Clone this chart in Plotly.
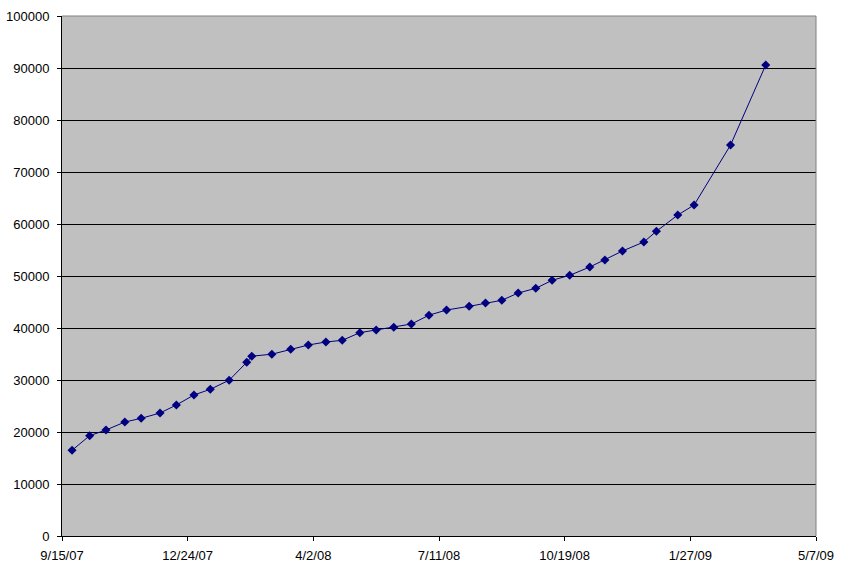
import plotly.graph_objects as go

dates = [
    "2007-09-23", "2007-10-07", "2007-10-20", "2007-11-04", "2007-11-17",
    "2007-12-02", "2007-12-15", "2007-12-29", "2008-01-11", "2008-01-26",
    "2008-02-09", "2008-02-13", "2008-02-29", "2008-03-15", "2008-03-29",
    "2008-04-12", "2008-04-25", "2008-05-09", "2008-05-22", "2008-06-05",
    "2008-06-19", "2008-07-03", "2008-07-17", "2008-08-04", "2008-08-17",
    "2008-08-30", "2008-09-12", "2008-09-26", "2008-10-09", "2008-10-23",
    "2008-11-08", "2008-11-20", "2008-12-04", "2008-12-21", "2008-12-31",
    "2009-01-17", "2009-01-30", "2009-02-28", "2009-03-28",
]
values = [
    16480, 19290, 20380, 21920, 22630,
    23650, 25190, 27120, 28210, 29960,
    33400, 34580, 34960, 35900, 36730,
    37310, 37630, 39100, 39620, 40130,
    40770, 42460, 43460, 44170, 44810,
    45330, 46730, 47630, 49170, 50130,
    51730, 53080, 54810, 56540, 58600,
    61730, 63650, 75190, 90580,
]
x_tickvals = ["2007-09-15", "2007-12-24", "2008-04-02", "2008-07-11",
              "2008-10-19", "2009-01-27", "2009-05-07"]
x_ticktext = ["9/15/07", "12/24/07", "4/2/08", "7/11/08",
              "10/19/08", "1/27/09", "5/7/09"]
y_tickvals = [0, 10000, 20000, 30000, 40000, 50000, 60000, 70000, 80000, 90000, 100000]

fig = go.Figure()
fig.add_trace(go.Scatter(
    x=dates, y=values, mode="lines+markers",
    line=dict(color="#000080", width=1),
    marker=dict(symbol="diamond", size=7, color="#000080"),
    showlegend=False,
))

font = dict(family="Liberation Sans, Arial, sans-serif", size=13, color="black")

fig.update_layout(
    width=842, height=575,
    margin=dict(l=62, r=26, t=16, b=39),
    paper_bgcolor="white",
    plot_bgcolor="#C0C0C0",
    font=font,
    hovermode=False,
    xaxis=dict(
        type="date",
        range=["2007-09-15", "2009-05-07"],
        tickvals=x_tickvals, ticktext=x_ticktext,
        showgrid=False, zeroline=False,
        showline=True, linecolor="black", linewidth=1,
        ticks="outside", ticklen=4, tickcolor="black",
        ticklabelstandoff=3,
        tickfont=font,
        automargin=False,
    ),
    yaxis=dict(
        range=[0, 100000],
        tickvals=y_tickvals,
        tickformat="d",
        showgrid=True, gridcolor="black", gridwidth=1,
        zeroline=False,
        showline=True, linecolor="black", linewidth=1,
        ticks="outside", ticklen=4, tickcolor="black",
        ticklabelstandoff=5,
        tickfont=font,
        automargin=False,
    ),
    shapes=[
        dict(type="line", xref="paper", yref="paper", x0=0, x1=1, y0=1, y1=1,
             line=dict(color="#808080", width=1), layer="above"),
        dict(type="line", xref="paper", yref="paper", x0=1, x1=1, y0=0, y1=1,
             line=dict(color="#808080", width=1), layer="above"),
    ],
)

fig.write_html(
    "out.html",
    config={"displayModeBar": False},
    post_script="document.body.style.margin='0';document.body.style.overflow='hidden';",
)
